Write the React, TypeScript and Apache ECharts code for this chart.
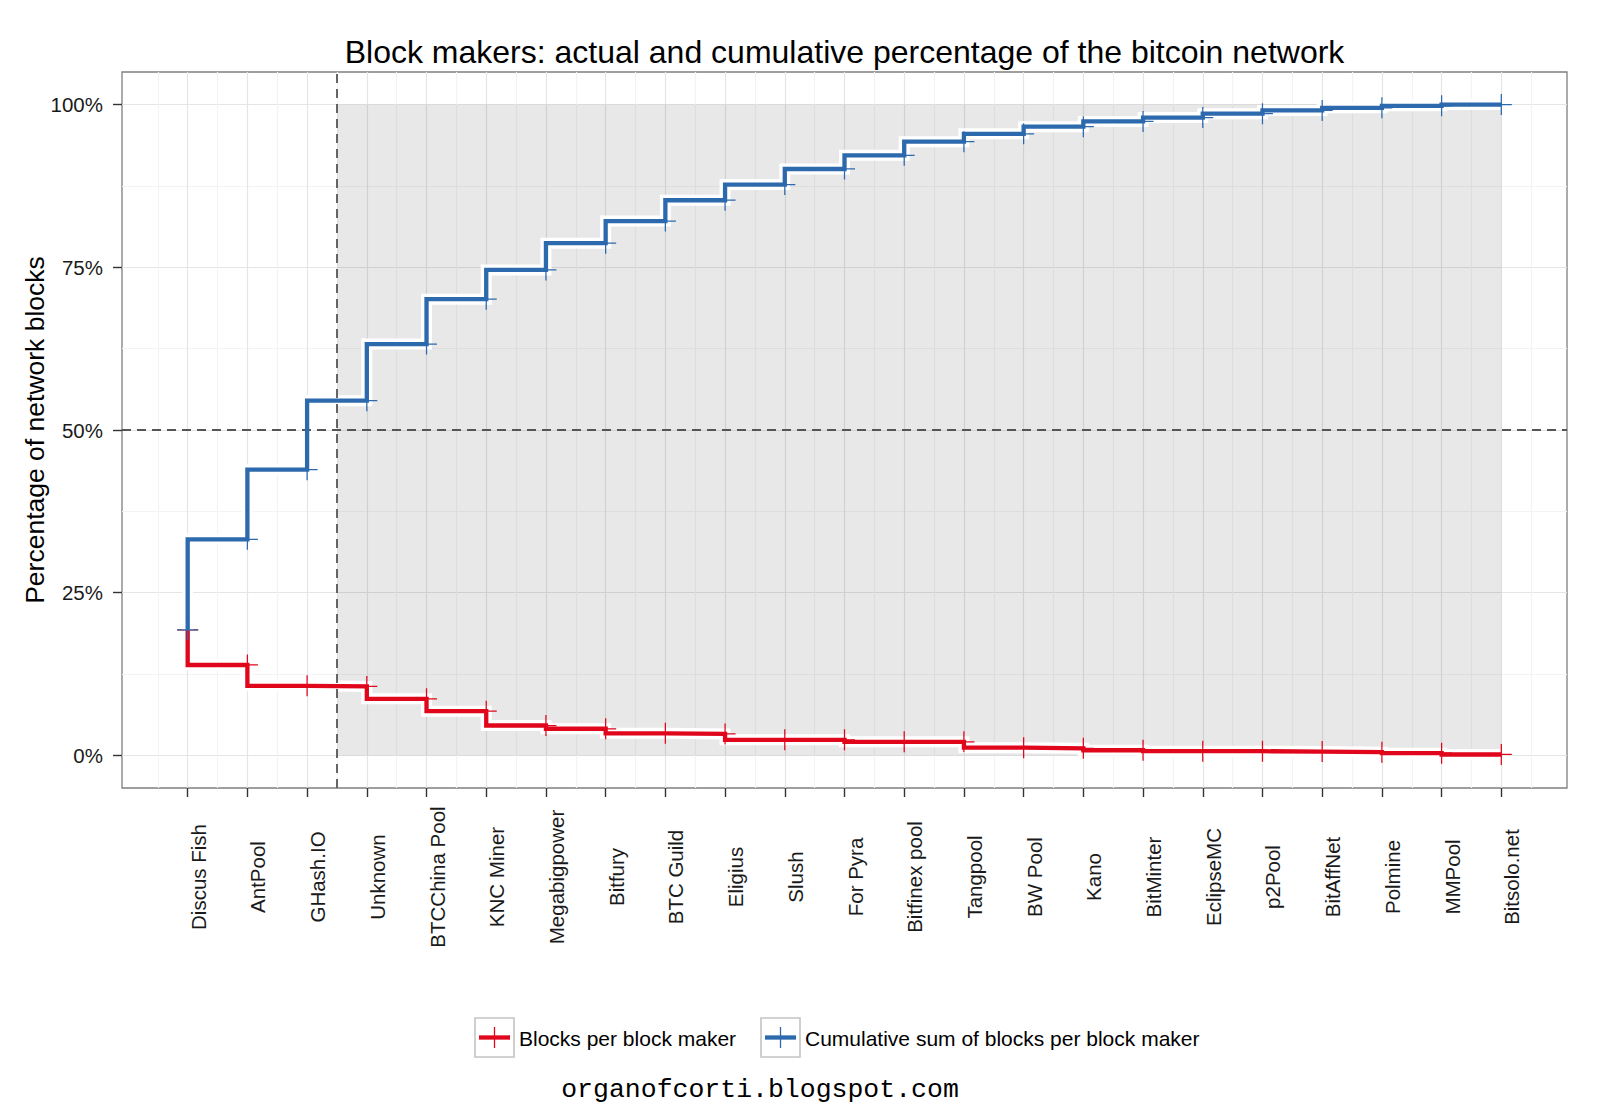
import React, { useEffect, useRef } from "react";
import * as echarts from "echarts";

const makers = [
  "Discus Fish", "AntPool", "GHash.IO", "Unknown", "BTCChina Pool", "KNC Miner",
  "Megabigpower", "Bitfury", "BTC Guild", "Eligius", "Slush", "For Pyra",
  "Bitfinex pool", "Tangpool", "BW Pool", "Kano", "BitMinter", "EclipseMC",
  "p2Pool", "BitAffNet", "Polmine", "MMPool", "Bitsolo.net",
];
const blockShare = [
  19.3, 13.9, 10.7, 10.6, 8.7, 6.8, 4.6, 4.1, 3.4, 3.3, 2.4, 2.4,
  2.1, 2.1, 1.2, 1.1, 0.8, 0.65, 0.65, 0.6, 0.5, 0.35, 0.15,
];
const cumulativeShare = [
  19.3, 33.2, 43.9, 54.5, 63.2, 70.1, 74.6, 78.7, 82.1, 85.3, 87.7, 90.1,
  92.2, 94.3, 95.5, 96.6, 97.4, 98.0, 98.6, 99.1, 99.5, 99.8, 100.0,
];
const yTicks = [0, 25, 50, 75, 100];
const yMinorTicks = [12.5, 37.5, 62.5, 87.5];
const xLimits = [-0.1, 24.1];
const yLimits = [-5, 105];
const majorityCut = 3.5;
const halfLine = 50;
const seriesNames = ["Blocks per block maker", "Cumulative sum of blocks per block maker"];

const RED = "#e0061b";
const BLUE = "#2c69ad";
const FONT = "Liberation Sans, Arial, Helvetica, sans-serif";
const CROSS = "path://M-0.6,-10H0.6V-0.6H10V0.6H0.6V10H-0.6V0.6H-10V-0.6H-0.6Z";

export default function App() {
  const ref = useRef<HTMLDivElement>(null);

  useEffect(() => {
    if (!ref.current) return;
    const chart = echarts.init(ref.current, undefined, { renderer: "svg" });

    const xMajor = makers.map((_, i) => i + 1);
    const xMinor = [...makers.map((_, i) => i + 0.5), makers.length + 0.5];
    const redData = blockShare.map((v, i) => [i + 1, v]);
    const blueData = cumulativeShare.map((v, i) => [i + 1, v]);

    const lineSeries = (name: string, data: number[][], color: string, z: number) => [
      {
        type: "line",
        name: name + " halo",
        data,
        step: "start",
        symbol: "none",
        silent: true,
        z,
        lineStyle: { color: "#ffffff", width: 11, join: "miter", cap: "butt" },
      },
      {
        type: "line",
        name,
        data,
        step: "start",
        symbol: CROSS,
        symbolSize: 21,
        showAllSymbol: true,
        z: z + 1,
        itemStyle: { color },
        lineStyle: { color, width: 4.3, join: "miter", cap: "butt" },
      },
    ];

    const option: any = {
      animation: false,
      backgroundColor: "#ffffff",
      grid: {
        left: 122,
        top: 72,
        width: 1445,
        height: 716,
        show: true,
        borderColor: "#7f7f7f",
        borderWidth: 1.3,
        backgroundColor: "#ffffff",
      },
      xAxis: [
        {
          type: "value",
          min: xLimits[0],
          max: xLimits[1],
          axisLine: { show: false, onZero: false },
          axisTick: {
            show: true,
            customValues: xMajor,
            length: 9,
            lineStyle: { color: "#333333", width: 1.4 },
          },
          axisLabel: {
            show: true,
            customValues: xMajor,
            formatter: (v: number) => makers[Math.round(v) - 1] ?? "",
            rotate: 90,
            align: "center",
            verticalAlign: "top",
            margin: 89,
            fontSize: 20.5,
            fontFamily: FONT,
            color: "#1a1a1a",
          },
          splitLine: { show: true, lineStyle: { color: "#e5e5e5", width: 1.2 } },
        },
        {
          type: "value",
          min: xLimits[0],
          max: xLimits[1],
          axisLine: { show: false, onZero: false },
          axisTick: { show: false, customValues: xMinor },
          axisLabel: { show: false },
          splitLine: { show: true, lineStyle: { color: "#f3f3f3", width: 1.2 } },
        },
      ],
      yAxis: [
        {
          type: "value",
          min: yLimits[0],
          max: yLimits[1],
          axisLine: { show: false, onZero: false },
          axisTick: {
            show: true,
            customValues: yTicks,
            length: 9,
            lineStyle: { color: "#333333", width: 1.4 },
          },
          axisLabel: {
            show: true,
            customValues: yTicks,
            formatter: (v: number) => `${v}%`,
            margin: 19,
            fontSize: 20.5,
            fontFamily: FONT,
            color: "#1a1a1a",
          },
          splitLine: { show: true, lineStyle: { color: "#e5e5e5", width: 1.2 } },
        },
        {
          type: "value",
          min: yLimits[0],
          max: yLimits[1],
          axisLine: { show: false, onZero: false },
          axisTick: { show: false, customValues: yMinorTicks },
          axisLabel: { show: false },
          splitLine: { show: true, lineStyle: { color: "#f3f3f3", width: 1.2 } },
        },
      ],
      series: [
        {
          type: "line",
          name: "shade",
          data: [],
          silent: true,
          z: 1,
          markArea: {
            silent: true,
            itemStyle: { color: "rgba(0,0,0,0.09)" },
            data: [[{ xAxis: majorityCut, yAxis: 0 }, { xAxis: makers.length, yAxis: 100 }]],
          },
        },
        ...lineSeries(seriesNames[0], redData, RED, 2),
        ...lineSeries(seriesNames[1], blueData, BLUE, 4),
        {
          type: "line",
          name: "guides",
          data: [],
          silent: true,
          z: 10,
          markLine: {
            silent: true,
            symbol: ["none", "none"],
            label: { show: false },
            lineStyle: { color: "#555555", width: 1.8, type: [9, 6] },
            data: [{ yAxis: halfLine }, { xAxis: majorityCut }],
          },
        },
      ],
      graphic: [
        {
          type: "text",
          x: 844.5,
          y: 52,
          style: {
            text: "Block makers: actual and cumulative percentage of the bitcoin network",
            fontSize: 32,
            fontFamily: FONT,
            fill: "#000000",
            align: "center",
            verticalAlign: "middle",
          },
        },
        {
          type: "text",
          x: 35,
          y: 430,
          rotation: Math.PI / 2,
          style: {
            text: "Percentage of network blocks",
            fontSize: 26.5,
            fontFamily: FONT,
            fill: "#000000",
            align: "center",
            verticalAlign: "middle",
          },
        },
        {
          type: "rect",
          shape: { x: 475, y: 1018, width: 39, height: 39 },
          style: { fill: "#ffffff", stroke: "#c4c4c4", lineWidth: 1.6 },
        },
        {
          type: "line",
          shape: { x1: 479, y1: 1037.5, x2: 510, y2: 1037.5 },
          style: { stroke: RED, lineWidth: 4.3 },
        },
        {
          type: "line",
          shape: { x1: 494.5, y1: 1027, x2: 494.5, y2: 1048 },
          style: { stroke: RED, lineWidth: 1.3 },
        },
        {
          type: "text",
          x: 519,
          y: 1038,
          style: {
            text: seriesNames[0],
            fontSize: 21,
            fontFamily: FONT,
            fill: "#000000",
            align: "left",
            verticalAlign: "middle",
          },
        },
        {
          type: "rect",
          shape: { x: 761, y: 1018, width: 39, height: 39 },
          style: { fill: "#ffffff", stroke: "#c4c4c4", lineWidth: 1.6 },
        },
        {
          type: "line",
          shape: { x1: 765, y1: 1037.5, x2: 796, y2: 1037.5 },
          style: { stroke: BLUE, lineWidth: 4.3 },
        },
        {
          type: "line",
          shape: { x1: 780.5, y1: 1027, x2: 780.5, y2: 1048 },
          style: { stroke: BLUE, lineWidth: 1.3 },
        },
        {
          type: "text",
          x: 805,
          y: 1038,
          style: {
            text: seriesNames[1],
            fontSize: 21,
            fontFamily: FONT,
            fill: "#000000",
            align: "left",
            verticalAlign: "middle",
          },
        },
        {
          type: "text",
          x: 760,
          y: 1090,
          style: {
            text: "organofcorti.blogspot.com",
            fontSize: 26.5,
            fontFamily: "Liberation Mono, DejaVu Sans Mono, monospace",
            fill: "#000000",
            align: "center",
            verticalAlign: "middle",
          },
        },
      ],
    };

    chart.setOption(option);
    return () => chart.dispose();
  }, []);

  return (
    <div
      ref={ref}
      style={{ position: "absolute", left: 0, top: 0, width: 1600, height: 1120, background: "#ffffff" }}
    />
  );
}
